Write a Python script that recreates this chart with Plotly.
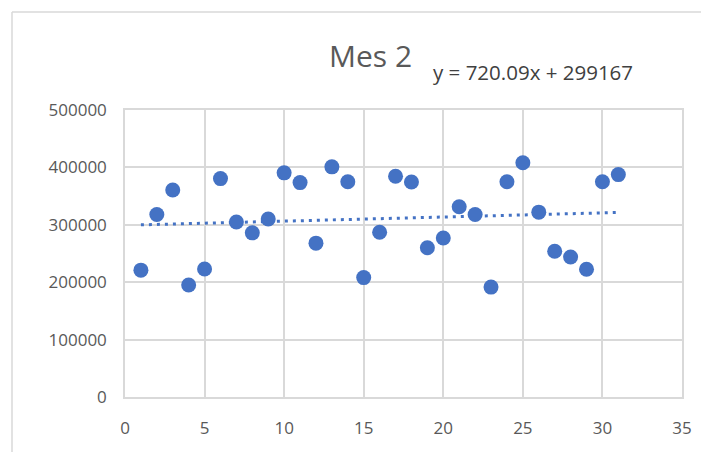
import plotly.graph_objects as go

# Data
days = list(range(1, 32))
values = [221000, 318000, 360500, 195000, 223000, 380500, 305000, 286000, 310000, 390500,
          373500, 268000, 401000, 375000, 208000, 287000, 384500, 374500, 260000, 277000,
          331500, 318000, 191500, 375000, 408000, 322000, 254000, 244000, 222500, 375000,
          387500]
slope = 720.09
intercept = 299167
title_text = "Mes 2"
equation_text = "y = 720.09x + 299167"
x_ticks = [0, 5, 10, 15, 20, 25, 30, 35]
y_ticks = [0, 100000, 200000, 300000, 400000, 500000]

# page has an 8px body margin; work in page pixels and convert
OFF = 8
W, H = 709 - OFF, 452 - OFF
L, T = 125 - OFF, 110 - OFF
R = W - (682 - OFF)
B = H - (397 - OFF)
pw, ph = W - L - R, H - T - B

def px_x(p):  # page pixel -> paper
    return (p - OFF - L) / pw

def px_y(p):
    return (H - B - (p - OFF)) / ph

blue = "#4472C4"
grid = "#D9D9D9"
txt = "#595959"
font = "Open Sans, Liberation Sans, sans-serif"

trend_x = [days[0], days[-1]]
trend_y = [intercept + slope * x for x in trend_x]

fig = go.Figure()
fig.add_trace(go.Scatter(
    x=trend_x, y=trend_y, mode="lines",
    line=dict(color=blue, width=3, dash="3px,5px"),
    hoverinfo="skip", showlegend=False))
fig.add_trace(go.Scatter(
    x=days, y=values, mode="markers",
    marker=dict(color=blue, size=15, line=dict(color=blue, width=0)),
    showlegend=False))

fig.update_layout(
    width=W, height=H,
    margin=dict(l=L, r=R, t=T, b=B, pad=0),
    paper_bgcolor="white", plot_bgcolor="white",
    font=dict(family=font, color=txt, size=16),
    xaxis=dict(range=[0, 35], tickvals=x_ticks, showgrid=True, gridcolor=grid, gridwidth=1.5,
               zeroline=False, showline=True, linecolor=grid, linewidth=1.5, mirror=True,
               ticks="", ticklabelstandoff=15, tickfont=dict(size=17, color=txt)),
    yaxis=dict(range=[0, 500000], tickvals=y_ticks, showgrid=True, gridcolor=grid, gridwidth=1.5,
               zeroline=False, showline=True, linecolor=grid, linewidth=1.5, mirror=True,
               ticks="", ticklabelstandoff=13, tickformat="d", tickfont=dict(size=17, color=txt)),
    shapes=[
        dict(type="line", xref="paper", yref="paper", x0=px_x(12), x1=px_x(720), y0=px_y(12), y1=px_y(12),
             line=dict(color=grid, width=1.5)),
        dict(type="line", xref="paper", yref="paper", x0=px_x(12), x1=px_x(12), y0=px_y(12), y1=px_y(460),
             line=dict(color=grid, width=1.5)),
    ],
    annotations=[
        dict(text=title_text, xref="paper", yref="paper", x=px_x(370), y=px_y(55),
             xanchor="center", yanchor="middle", showarrow=False,
             font=dict(size=30, color=txt, family=font)),
        dict(text=equation_text, xref="paper", yref="paper", x=px_x(533), y=px_y(72),
             xanchor="center", yanchor="middle", showarrow=False,
             font=dict(size=20.5, color="#404040", family=font)),
    ],
)

fig.write_html("out.html")
